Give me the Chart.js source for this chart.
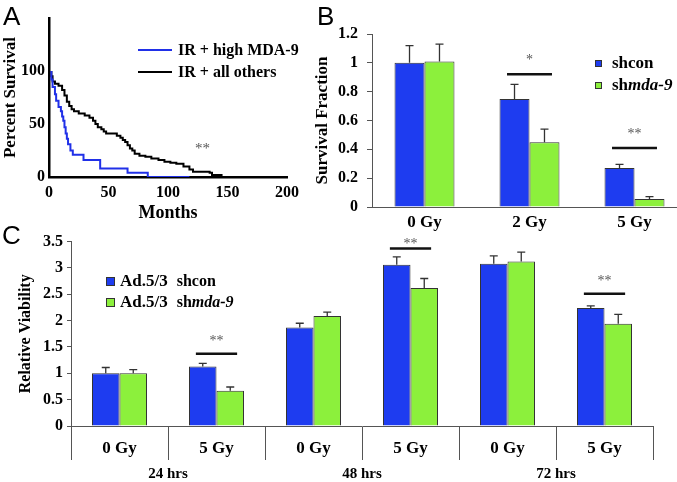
<!DOCTYPE html>
<html>
<head>
<meta charset="utf-8">
<script src="https://cdn.jsdelivr.net/npm/chart.js@4.4.1/dist/chart.umd.min.js"></script>
<style>
  body { margin: 0; width: 677px; height: 482px; overflow: hidden; position: relative; background: #fff;
         font-family: "Liberation Serif", "Times New Roman", serif; }
  canvas { position: absolute; }
  .lbl { position: absolute; font-family: "Liberation Sans", Arial, sans-serif; font-size: 26px; line-height: 26px; }
  .leg { position: absolute; font-weight: bold; font-size: 17px; line-height: 20px; white-space: nowrap;
         display: flex; align-items: center; }
  .sw { display: inline-block; box-sizing: border-box; border: 1px solid #333; }
  .ln { display: inline-block; width: 34px; height: 2px; margin-right: 6px; }
  .stars { position: absolute; font-size: 15px; color: #555; }
</style>
</head>
<body>
<canvas id="chartA" width="320" height="224" style="left:0;top:0"></canvas>
<canvas id="chartB" width="400" height="235" style="left:300px;top:0"></canvas>
<canvas id="chartC" width="677" height="254" style="left:0;top:228px"></canvas>

<div class="lbl" style="left:3px;top:3px">A</div>
<div class="lbl" style="left:317px;top:3px">B</div>
<div class="lbl" style="left:2px;top:222px">C</div>

<div class="leg" style="left:138px;top:40px;font-size:16px"><span class="ln" style="background:#2030e8"></span>IR + high MDA-9</div>
<div class="leg" style="left:138px;top:62px;font-size:16px"><span class="ln" style="background:#000"></span>IR + all others</div>
<div class="stars" style="left:195px;top:140px">**</div>

<div class="leg" style="left:595px;top:53px"><span class="sw" style="width:7px;height:7px;background:#1e3cf0"></span><span style="margin-left:10px">shcon</span></div>
<div class="leg" style="left:595px;top:75px"><span class="sw" style="width:7px;height:7px;background:#8cf03c"></span><span style="margin-left:10px">sh<i>mda-9</i></span></div>

<div class="leg" style="left:106px;top:271px"><span class="sw" style="width:9px;height:9px;background:#1e3cf0"></span><span style="margin-left:5px">Ad.5/3</span><span style="margin-left:9px;font-size:16px">shcon</span></div>
<div class="leg" style="left:106px;top:292px"><span class="sw" style="width:9px;height:9px;background:#8cf03c"></span><span style="margin-left:5px">Ad.5/3</span><span style="margin-left:9px;font-size:16px">sh<i>mda-9</i></span></div>

<script>
// Panel A: Kaplan-Meier curves (months, percent survival)
const monthsHigh = [2, 3, 5, 6, 8, 10, 11, 12, 13, 14, 15, 16, 18, 20, 29, 43, 66, 83, 118];
const survHigh   = [100, 92, 85, 78, 72, 66, 62, 57, 53, 47, 41, 36, 31, 25, 21, 16, 8, 4, 0];
const monthsOthers = [2, 3, 5, 8, 11, 13, 15, 17, 19, 21, 25, 30, 34, 37, 39, 41, 44, 46, 48, 57, 60, 62,
                      64, 66, 68, 70, 72, 76, 81, 86, 92, 97, 102, 107, 113, 118, 121, 135, 137, 145, 148];
const survOthers   = [100, 95, 90, 88, 86, 82, 77, 71, 67, 64, 62, 60, 58, 56, 53, 50, 47, 45, 43, 41, 39, 37,
                      35, 33, 30, 27, 25, 22, 20, 19, 17.5, 16, 14.5, 13.5, 12.5, 10, 7, 5, 4, 2, 0];
const yTicksA = [0, 50, 100];

// Panel B: survival fraction
const doseB = ["0 Gy", "2 Gy", "5 Gy"];
const shconB = [1.00, 0.75, 0.27];
const shconSdB = [0.12, 0.10, 0.025];
const shmdaB = [1.01, 0.45, 0.055];
const shmdaSdB = [0.12, 0.09, 0.017];
const yTicksB = [0, 0.2, 0.4, 0.6, 0.8, 1, 1.2];
const sigIdxB = [1, 2];
const sigLineB = [0.92, 0.41];
const sigStarB = [1.04, 0.53];
const sigTextB = ["*", "**"];

// Panel C: relative viability
const doseC = ["0 Gy", "5 Gy", "0 Gy", "5 Gy", "0 Gy", "5 Gy"];
const timesC = ["24 hrs", "48 hrs", "72 hrs"];
const shconC = [1.00, 1.13, 1.87, 3.06, 3.08, 2.24];
const shconSdC = [0.11, 0.06, 0.08, 0.15, 0.15, 0.04];
const shmdaC = [1.00, 0.67, 2.09, 2.62, 3.12, 1.94];
const shmdaSdC = [0.07, 0.07, 0.07, 0.18, 0.18, 0.18];
const yTicksC = [0, 0.5, 1, 1.5, 2, 2.5, 3, 3.5];
const sigIdxC = [1, 3, 5];
const sigLineC = [1.37, 3.37, 2.51];
const sigStarC = [1.67, 3.52, 2.81];
const sigTextC = ["**", "**", "**"];

const BLUE = "#1e3cf0";
const GREEN = "#8cf03c";

Chart.defaults.font.family = '"Liberation Serif", "Times New Roman", serif';
Chart.defaults.font.weight = "bold";
Chart.defaults.font.size = 16;
Chart.defaults.color = "#000";
Chart.defaults.animation = false;

const pts = (xs, ys) => xs.map((x, i) => ({ x: x, y: ys[i] }));
const fixTicks = (arr) => (scale) => { scale.ticks = arr.map(v => ({ value: v })); };

// error bars (upper only) and significance bars
const errBars = {
  id: "errBars",
  afterDatasetsDraw(chart, args, opts) {
    const { ctx } = chart;
    const y = chart.scales.y;
    ctx.save();
    ctx.strokeStyle = "#333";
    ctx.lineWidth = 1.3;
    opts.sd.forEach((sd, i) => {
      const vals = chart.data.datasets[i].data;
      chart.getDatasetMeta(i).data.forEach((bar, j) => {
        const top = y.getPixelForValue(vals[j] + sd[j]);
        ctx.beginPath();
        ctx.moveTo(bar.x, bar.y);
        ctx.lineTo(bar.x, top);
        ctx.moveTo(bar.x - 4, top);
        ctx.lineTo(bar.x + 4, top);
        ctx.stroke();
      });
    });
    ctx.strokeStyle = "#111";
    ctx.lineWidth = 2.5;
    ctx.fillStyle = "#555";
    ctx.font = "14px 'Liberation Serif', serif";
    ctx.textAlign = "center";
    ctx.textBaseline = "alphabetic";
    opts.idx.forEach((k, n) => {
      const b0 = chart.getDatasetMeta(0).data[k];
      const b1 = chart.getDatasetMeta(1).data[k];
      const cx = (b0.x + b1.x) / 2;
      const half = b0.width * 0.75;
      const ly = y.getPixelForValue(opts.line[n]);
      ctx.beginPath();
      ctx.moveTo(cx - half, ly);
      ctx.lineTo(cx + half, ly);
      ctx.stroke();
      ctx.fillText(opts.text[n], cx, y.getPixelForValue(opts.star[n]) + 7);
    });
    ctx.restore();
  }
};

// ---- A ----
new Chart(document.getElementById("chartA"), {
  type: "line",
  data: {
    datasets: [
      { data: pts(monthsHigh, survHigh), borderColor: "#2030e8", borderWidth: 2, stepped: "after", pointRadius: 0, fill: false },
      { data: pts(monthsOthers, survOthers), borderColor: "#000", borderWidth: 2, stepped: "after", pointRadius: 0, fill: false },
    ],
  },
  options: {
    responsive: false,
    layout: { padding: { left: 0, top: 18, right: 33, bottom: 0 } },
    plugins: { legend: { display: false }, tooltip: { enabled: false } },
    scales: {
      x: {
        type: "linear", min: 0, max: 200,
        ticks: { stepSize: 50, padding: 6 },
        grid: { display: false, drawTicks: false },
        border: { display: true, color: "#000", width: 2.5 },
        title: { display: true, text: "Months", font: { size: 18, weight: "bold" }, padding: 0 },
        afterFit: (s) => { s.height = 47; },
      },
      y: {
        min: 0, max: 150,
        afterBuildTicks: fixTicks(yTicksA),
        ticks: { padding: 4 },
        grid: { display: false, drawTicks: false },
        border: { display: true, color: "#000", width: 2.5 },
        title: { display: true, text: "Percent Survival", font: { size: 17, weight: "bold" }, padding: 0 },
        afterFit: (s) => { s.width = 49; },
      },
    },
  },
});

// ---- B ----
new Chart(document.getElementById("chartB"), {
  type: "bar",
  data: {
    labels: doseB,
    datasets: [
      { data: shconB, backgroundColor: BLUE, borderColor: "#333", borderWidth: 1 },
      { data: shmdaB, backgroundColor: GREEN, borderColor: "#333", borderWidth: 1 },
    ],
  },
  options: {
    responsive: false,
    barPercentage: 1,
    categoryPercentage: 0.571,
    layout: { padding: { left: 0, top: 34, right: 13, bottom: 0 } },
    plugins: {
      legend: { display: false }, tooltip: { enabled: false },
      errBars: { sd: [shconSdB, shmdaSdB], idx: sigIdxB, line: sigLineB, star: sigStarB, text: sigTextB },
    },
    scales: {
      x: {
        ticks: { padding: 5, font: { size: 17 } },
        grid: { display: false, drawTicks: false },
        border: { display: true, color: "#555", width: 1 },
        afterFit: (s) => { s.height = 28; },
      },
      y: {
        min: 0, max: 1.2,
        afterBuildTicks: fixTicks(yTicksB),
        ticks: { padding: 9, callback: (v) => String(v) },
        grid: { display: true, drawOnChartArea: false, drawTicks: true, tickLength: 5, color: "#555" },
        border: { display: true, color: "#555", width: 1 },
        title: { display: true, text: "Survival Fraction", font: { size: 17, weight: "bold" }, padding: { top: 12 } },
        afterFit: (s) => { s.width = 72; },
      },
    },
  },
  plugins: [errBars],
});

// ---- C ----
new Chart(document.getElementById("chartC"), {
  type: "bar",
  data: {
    labels: doseC,
    datasets: [
      { data: shconC, backgroundColor: BLUE, borderColor: "#333", borderWidth: 1 },
      { data: shmdaC, backgroundColor: GREEN, borderColor: "#333", borderWidth: 1 },
    ],
  },
  options: {
    responsive: false,
    barPercentage: 1,
    categoryPercentage: 0.567,
    layout: { padding: { left: 0, top: 12, right: 24, bottom: 0 } },
    plugins: {
      legend: { display: false }, tooltip: { enabled: false },
      errBars: { sd: [shconSdC, shmdaSdC], idx: sigIdxC, line: sigLineC, star: sigStarC, text: sigTextC },
    },
    scales: {
      x: {
        weight: 0,
        ticks: { padding: -22, font: { size: 17 } },
        grid: { display: true, offset: true, drawOnChartArea: false, drawTicks: true, tickLength: 34, color: "#555" },
        border: { display: true, color: "#555", width: 1 },
        afterFit: (s) => { s.height = 34; },
      },
      x2: {
        type: "category", position: "bottom", weight: 1,
        labels: timesC,
        ticks: { padding: 5, font: { size: 15 } },
        grid: { display: false, drawTicks: false },
        border: { display: false },
        afterFit: (s) => { s.height = 22; },
      },
      y: {
        min: 0, max: 3.5,
        afterBuildTicks: fixTicks(yTicksC),
        ticks: { padding: 4, callback: (v) => String(v) },
        grid: { display: true, drawOnChartArea: false, drawTicks: true, tickLength: 4, color: "#555" },
        border: { display: true, color: "#555", width: 1 },
        title: { display: true, text: "Relative Viability", font: { size: 16, weight: "bold" }, padding: { top: 16 } },
        afterFit: (s) => { s.width = 71; },
      },
    },
  },
  plugins: [errBars],
});
</script>
</body>
</html>
